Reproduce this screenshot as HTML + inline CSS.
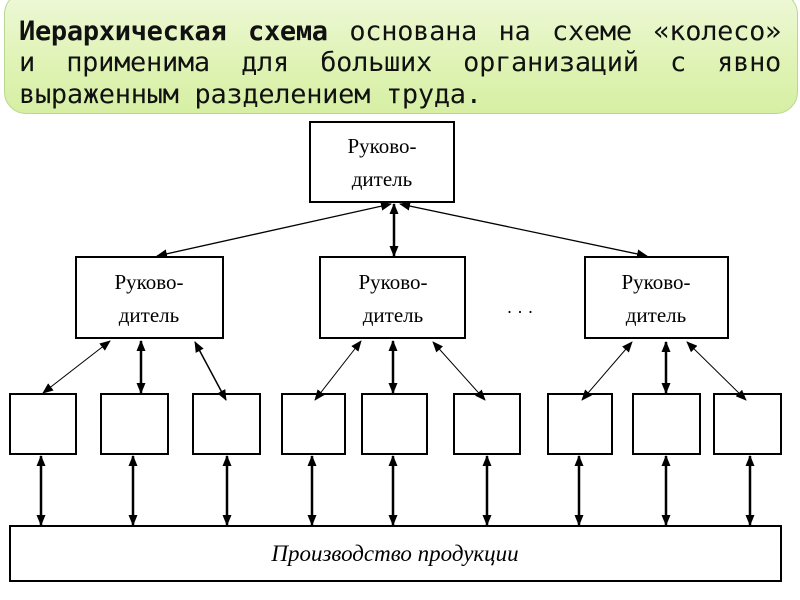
<!DOCTYPE html>
<html><head><meta charset="utf-8"><style>
body{margin:0;width:800px;height:600px;background:#fff;overflow:hidden;position:relative;font-family:"DejaVu Sans","Liberation Sans",sans-serif}
.hdr{position:absolute;left:4px;top:-8px;width:792px;height:120px;border-radius:22px;background:linear-gradient(180deg,#eef8d8 0%,#dff3b4 60%,#d6efa4 100%);border:1px solid #b8d890}
.ln{position:absolute;left:19px;width:762px;font-family:"DejaVu Sans Mono","Liberation Mono",monospace;font-size:27px;line-height:31px;color:#111;text-align:justify;text-align-last:justify;white-space:nowrap;letter-spacing:-0.3px}
</style></head><body>
<div class="hdr"></div>
<div class="ln" style="top:16px"><b>Иерархическая схема</b> основана на схеме «колесо»</div>
<div class="ln" style="top:47px">и применима для больших организаций с явно</div>
<div class="ln" style="top:79px;text-align-last:left">выраженным разделением труда.</div>
<svg width="800" height="600" style="position:absolute;left:0;top:0">
<defs><marker id="a" markerWidth="11" markerHeight="9" refX="10" refY="4.5" orient="auto-start-reverse" markerUnits="userSpaceOnUse"><path d="M0,0L11,4.5L0,9z" fill="#000"/></marker></defs>
<g fill="#fff" stroke="#000" stroke-width="2">
<rect x="310" y="122" width="144" height="80"/>
<rect x="76" y="257" width="147" height="81"/>
<rect x="320" y="257" width="145" height="81"/>
<rect x="585" y="257" width="143" height="81"/>
<rect x="10" y="394" width="66" height="60"/>
<rect x="101" y="394" width="67" height="60"/>
<rect x="193" y="394" width="67" height="60"/>
<rect x="282" y="394" width="63" height="60"/>
<rect x="362" y="394" width="65" height="60"/>
<rect x="454" y="394" width="66" height="60"/>
<rect x="548" y="394" width="64" height="60"/>
<rect x="633" y="394" width="67" height="60"/>
<rect x="714" y="394" width="67" height="60"/>
<rect x="10" y="526" width="771" height="55"/>
</g>
<g stroke="#000" marker-start="url(#a)" marker-end="url(#a)">
<line x1="391" y1="204" x2="157" y2="256" stroke-width="1.3"/>
<line x1="394" y1="204" x2="394" y2="256" stroke-width="2.5"/>
<line x1="400" y1="204" x2="647" y2="256" stroke-width="1.3"/>
<line x1="110" y1="341" x2="43" y2="393" stroke-width="1"/>
<line x1="141" y1="341" x2="141" y2="393" stroke-width="2.5"/>
<line x1="195" y1="342" x2="226" y2="400" stroke-width="1.5"/>
<line x1="361" y1="341" x2="315" y2="400" stroke-width="1"/>
<line x1="393" y1="341" x2="393" y2="393" stroke-width="2.5"/>
<line x1="433" y1="342" x2="485" y2="400" stroke-width="1"/>
<line x1="632" y1="342" x2="582" y2="400" stroke-width="1"/>
<line x1="666" y1="342" x2="666" y2="393" stroke-width="2.5"/>
<line x1="687" y1="342" x2="746" y2="400" stroke-width="1"/>
</g>
<g stroke="#000" stroke-width="2.5" marker-start="url(#a)" marker-end="url(#a)">
<line x1="41" y1="456" x2="41" y2="525"/>
<line x1="133" y1="456" x2="133" y2="525"/>
<line x1="227" y1="456" x2="227" y2="525"/>
<line x1="312" y1="456" x2="312" y2="525"/>
<line x1="393" y1="456" x2="393" y2="525"/>
<line x1="487" y1="456" x2="487" y2="525"/>
<line x1="579" y1="456" x2="579" y2="525"/>
<line x1="666" y1="456" x2="666" y2="525"/>
<line x1="750" y1="456" x2="750" y2="525"/>
</g>
<g font-family="Liberation Serif, serif" font-size="21" text-anchor="middle" fill="#000">
<text x="382" y="153">Руково-</text><text x="382" y="186">дитель</text>
<text x="149" y="289">Руково-</text><text x="149" y="322">дитель</text>
<text x="393" y="289">Руково-</text><text x="393" y="322">дитель</text>
<text x="656" y="289">Руково-</text><text x="656" y="322">дитель</text>
<text x="520" y="318" font-size="18">· · ·</text>
<text x="395" y="561" font-style="italic" font-size="23">Производство продукции</text>
</g>
</svg>
</body></html>
